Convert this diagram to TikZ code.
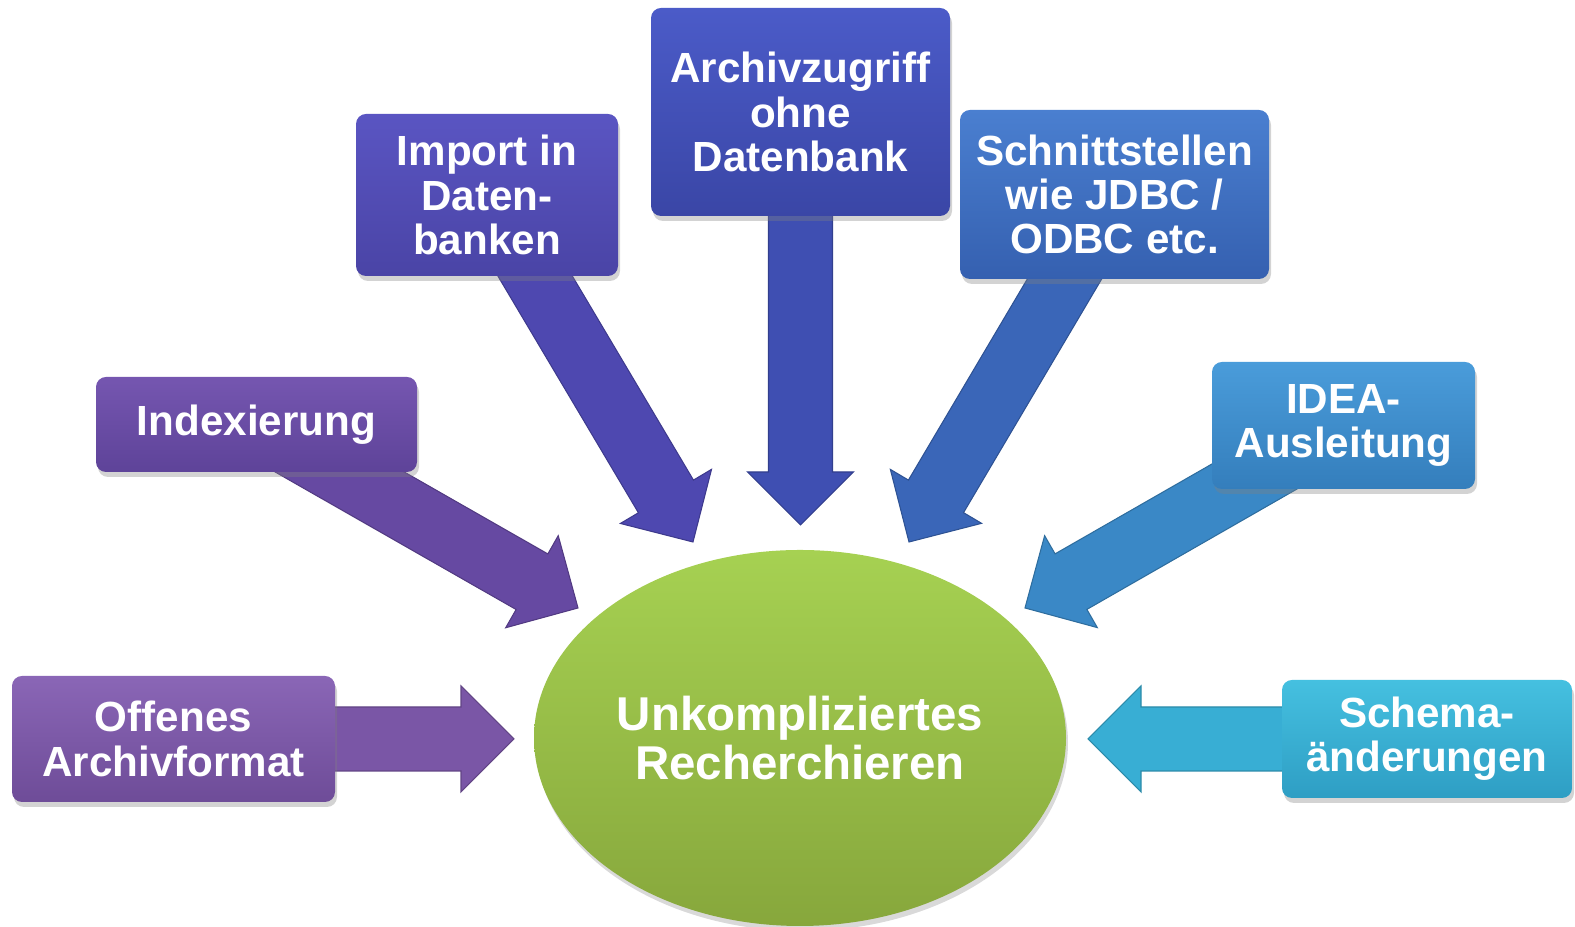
\documentclass[tikz,border=0pt]{standalone}
\usepackage{fontspec}
\setmainfont{Liberation Sans}
\usetikzlibrary{calc,shadows,backgrounds,shapes.geometric}
\definecolor{lilaA}{HTML}{8A66B6}\definecolor{lilaB}{HTML}{6E4C98}\definecolor{lilaP}{HTML}{7A56A6}
\definecolor{violA}{HTML}{7556B0}\definecolor{violB}{HTML}{5E4399}\definecolor{violP}{HTML}{6649A2}
\definecolor{indiA}{HTML}{5A55C2}\definecolor{indiB}{HTML}{4A44A6}\definecolor{indiP}{HTML}{4E48B0}
\definecolor{blauA}{HTML}{4B5BC8}\definecolor{blauB}{HTML}{3A46A6}\definecolor{blauP}{HTML}{3F4FB2}
\definecolor{mittA}{HTML}{4A7FD0}\definecolor{mittB}{HTML}{3560B0}\definecolor{mittP}{HTML}{3A66B8}
\definecolor{hellA}{HTML}{4A9CDA}\definecolor{hellB}{HTML}{347EBC}\definecolor{hellP}{HTML}{3A88C6}
\definecolor{cyanA}{HTML}{45C0E0}\definecolor{cyanB}{HTML}{2E9EC4}\definecolor{cyanP}{HTML}{38AED4}
\definecolor{gruenA}{HTML}{A6D152}\definecolor{gruenB}{HTML}{87A73C}
\newcommand{\blockpfeil}[3]{%
  \path ($(#2)!0.53cm!(#1)$) coordinate (hb);
  \fill [#3, draw=#3!80!black, line width=0.3pt]
    ($(#1)!0.32cm!90:(#2)$) -- ($(hb)!0.32cm!90:(#2)$) -- ($(hb)!0.53cm!90:(#2)$)
    -- (#2) -- ($(hb)!0.53cm!-90:(#2)$) -- ($(hb)!0.32cm!-90:(#2)$)
    -- ($(#1)!0.32cm!-90:(#2)$) -- cycle;
}
\tikzset{
  kasten/.style={rectangle, rounded corners=0.1cm, inner sep=0pt, align=center, text=white,
    font=\bfseries\fontsize{12}{12.6}\selectfont,
    drop shadow={opacity=0.35, shadow xshift=0.02cm, shadow yshift=-0.05cm}},
  ziel/.style={ellipse, inner sep=0pt, align=center, text=white,
    font=\bfseries\fontsize{13.5}{13.8}\selectfont, top color=gruenA, bottom color=gruenB,
    drop shadow={opacity=0.3, shadow xshift=0.02cm, shadow yshift=-0.05cm}}
}
\begin{document}
\begin{tikzpicture}
    \useasboundingbox (0,0) rectangle (15.75,9.27);
    \node [ziel, minimum width=5.32cm, minimum height=3.76cm] (recherche) at (8.00,1.89) {Unkompliziertes\\Recherchieren};
    \node [kasten, top color=lilaA, bottom color=lilaB, minimum width=3.23cm, minimum height=1.26cm] (offen) at (1.735,1.88) {Offenes\\Archivformat};
    \node [kasten, top color=violA, bottom color=violB, minimum width=3.21cm, minimum height=0.95cm] (index) at (2.565,5.025) {Indexierung};
    \node [kasten, top color=indiA, bottom color=indiB, minimum width=2.62cm, minimum height=1.62cm] (import) at (4.87,7.32) {Import in\\Daten-\\banken};
    \node [kasten, top color=blauA, bottom color=blauB, minimum width=2.99cm, minimum height=2.08cm] (zugriff) at (8.005,8.15) {Archivzugriff\\ohne\\Datenbank};
    \node [kasten, top color=mittA, bottom color=mittB, minimum width=3.09cm, minimum height=1.69cm] (schnitt) at (11.145,7.325) {Schnittstellen\\wie JDBC /\\ODBC etc.};
    \node [kasten, top color=hellA, bottom color=hellB, minimum width=2.63cm, minimum height=1.27cm] (idea) at (13.435,5.015) {IDEA-\\Ausleitung};
    \node [kasten, top color=cyanA, bottom color=cyanB, minimum width=2.90cm, minimum height=1.18cm] (schema) at (14.27,1.88) {Schema-\\änderungen};
    \coordinate (s1) at (5.14,1.88);
    \coordinate (s2) at (5.78,3.19);
    \coordinate (s3) at (6.93,3.85);
    \coordinate (s4) at (8.005,4.02);
    \coordinate (s5) at (9.09,3.85);
    \coordinate (s6) at (10.25,3.19);
    \coordinate (s7) at (10.88,1.88);
    \begin{pgfonlayer}{background}
    \blockpfeil{offen.center}{s1}{lilaP}
    \blockpfeil{index.center}{s2}{violP}
    \blockpfeil{import.center}{s3}{indiP}
    \blockpfeil{zugriff.center}{s4}{blauP}
    \blockpfeil{schnitt.center}{s5}{mittP}
    \blockpfeil{idea.center}{s6}{hellP}
    \blockpfeil{schema.center}{s7}{cyanP}
    \end{pgfonlayer}
\end{tikzpicture}
\end{document}
